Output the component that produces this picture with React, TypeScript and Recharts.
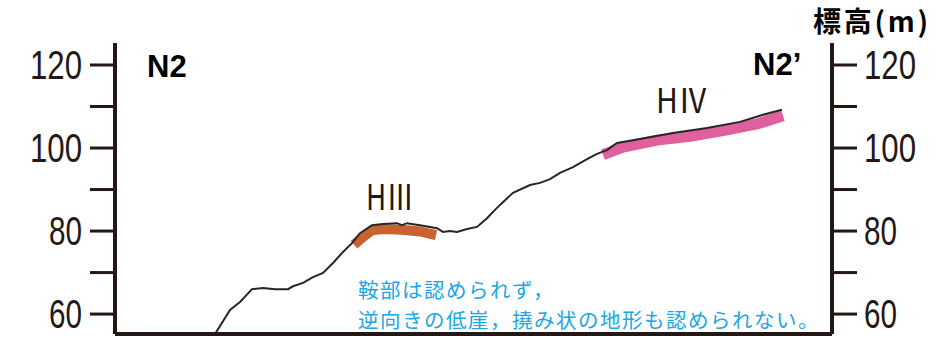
import React from 'react';
import { ComposedChart, Line, XAxis, YAxis } from 'recharts';

// horizontal distance along the profile (m) and elevation (m)
const distance = [100, 115, 125, 137, 148, 160, 173, 178, 188, 198, 208, 218, 227, 237, 245, 257, 268, 282, 287, 292, 305, 322, 328, 335, 342, 352, 362, 372, 380, 385, 398, 415, 425, 435, 445, 458, 472, 482, 492, 502, 525, 558, 592, 625, 648, 667];
const elevation = [55.2, 61.0, 62.9, 66.0, 66.3, 66.0, 66.0, 66.7, 67.5, 68.9, 69.9, 72.3, 74.7, 77.1, 79.5, 81.4, 81.7, 81.9, 81.4, 81.9, 81.4, 80.7, 79.8, 80.0, 79.8, 80.5, 81.0, 83.1, 85.1, 86.3, 89.2, 91.1, 91.6, 92.5, 94.0, 95.4, 97.3, 98.6, 99.5, 101.2, 102.2, 103.6, 104.8, 106.3, 108.0, 109.2];

// terrace surfaces
const h3Distance = [239, 247, 257, 268, 287, 305, 321];
const h3Elevation = [76.7, 78.4, 80.2, 80.5, 80.3, 79.9, 79.0];
const h4Distance = [488, 508, 542, 575, 608, 642, 668];
const h4Elevation = [98.4, 100.2, 101.9, 102.8, 104.2, 105.8, 107.8];

const yTicks = [60, 70, 80, 90, 100, 110, 120];
const labelledTicks = [60, 80, 100, 120];

const profile = distance.map((d, i) => ({ d, h: elevation[i] }));
const h3 = h3Distance.map((d, i) => ({ d, h: h3Elevation[i] }));
const h4 = h4Distance.map((d, i) => ({ d, h: h4Elevation[i] }));

const ink = '#231815';
const sans = "'Liberation Sans', Arial, sans-serif";
const jp = "'Noto Sans CJK JP', sans-serif";

const tickRenderer = (anchor: 'start' | 'end') => (props: any) => {
  const { x, y, payload } = props;
  if (!labelledTicks.includes(payload.value)) return <g />;
  const w = String(payload.value).length === 3 ? 52 : 33;
  return (
    <text
      x={x}
      y={y}
      textAnchor={anchor}
      dominantBaseline="central"
      fontFamily={sans}
      fontSize={40}
      fill={ink}
      textLength={w}
      lengthAdjust="spacingAndGlyphs"
    >
      {payload.value}
    </text>
  );
};

const App: React.FC = () => {
  return (
    <div style={{ position: 'absolute', left: 0, top: 0, width: 941, height: 343, background: '#fff' }}>
      <ComposedChart width={941} height={343} data={profile} margin={{ top: 43, right: 0, bottom: 0, left: 0 }}>
        <XAxis
          type="number"
          dataKey="d"
          domain={[0, 717]}
          height={9}
          tick={false}
          tickLine={false}
          axisLine={{ stroke: ink, strokeWidth: 4 }}
        />
        <YAxis
          yAxisId="left"
          domain={[55.2, 125.3]}
          allowDataOverflow
          ticks={yTicks}
          width={115}
          tickSize={25}
          tickMargin={8}
          tick={tickRenderer('end')}
          tickLine={{ stroke: ink, strokeWidth: 3 }}
          axisLine={{ stroke: ink, strokeWidth: 4 }}
        />
        <YAxis
          yAxisId="right"
          orientation="right"
          domain={[55.2, 125.3]}
          allowDataOverflow
          ticks={yTicks}
          width={109}
          tickSize={25}
          tickMargin={7}
          tick={tickRenderer('start')}
          tickLine={{ stroke: ink, strokeWidth: 3 }}
          axisLine={{ stroke: ink, strokeWidth: 4 }}
        />
        <Line yAxisId="left" data={h3} dataKey="h" type="linear" stroke="#c8622f" strokeWidth={10} strokeLinecap="butt" dot={false} isAnimationActive={false} />
        <Line yAxisId="left" data={h4} dataKey="h" type="linear" stroke="#e0609e" strokeWidth={11} strokeLinecap="butt" dot={false} isAnimationActive={false} />
        <Line yAxisId="left" dataKey="h" type="linear" stroke="#2a2523" strokeWidth={2} dot={false} isAnimationActive={false} />
      </ComposedChart>
      <svg width={941} height={343} style={{ position: 'absolute', left: 0, top: 0, pointerEvents: 'none' }}>
        <text x={147} y={77} fontFamily={sans} fontWeight="bold" fontSize={31} fill="#000">N2</text>
        <text x={753} y={75} fontFamily={sans} fontWeight="bold" fontSize={31} fill="#000">N2’</text>
        <text x={813} y={32} fontFamily={jp} fontWeight="bold" fontSize={28} fill="#000" textLength={115} lengthAdjust="spacing">標高(m)</text>
        <text x={366} y={210} fontFamily={jp} fontSize={36} fill={ink} textLength={48} lengthAdjust="spacingAndGlyphs">HⅢ</text>
        <text x={656} y={113} fontFamily={jp} fontSize={34} fill={ink} textLength={52} lengthAdjust="spacingAndGlyphs">HⅣ</text>
      </svg>
      <div
        style={{
          position: 'absolute',
          left: 358,
          top: 274,
          fontFamily: jp,
          fontSize: 20.5,
          letterSpacing: '1.5px',
          lineHeight: '30px',
          color: '#20a6e4',
          whiteSpace: 'nowrap',
        }}
      >
        <div>鞍部は認められず，</div>
        <div>逆向きの低崖，撓み状の地形も認められない。</div>
      </div>
    </div>
  );
};

export default App;
